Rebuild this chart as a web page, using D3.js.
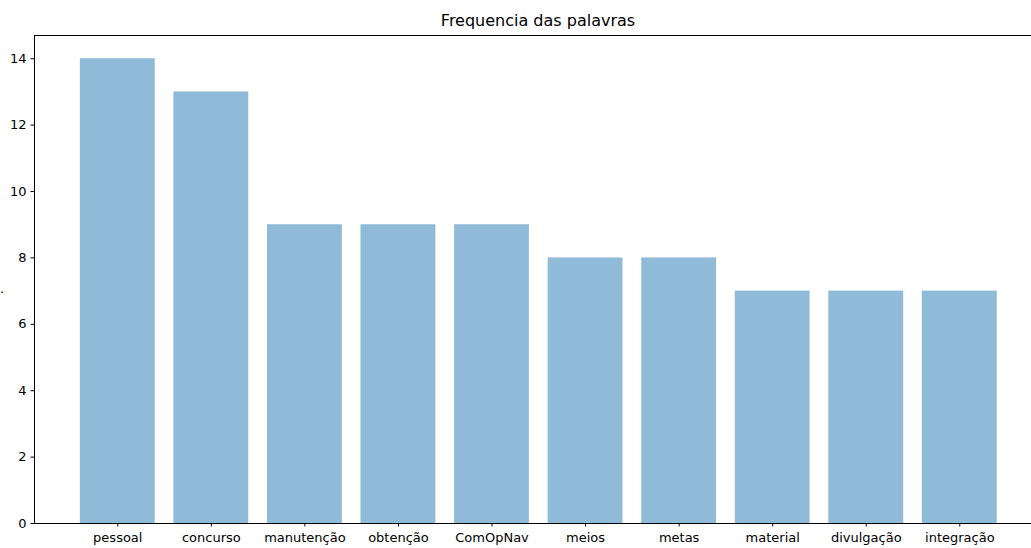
<!DOCTYPE html>
<html>
<head>
<meta charset="utf-8">
<script src="https://cdn.jsdelivr.net/npm/d3@7"></script>
<style>
  body { margin: 0; background: #fff; }
  svg { display: block; }
  svg text { font-family: "DejaVu Sans", sans-serif; }
</style>
</head>
<body>
<svg id="chart" width="1031" height="548"></svg>
<script>
// data
var palavras = ["pessoal", "concurso", "manutenção", "obtenção", "ComOpNav", "meios", "metas", "material", "divulgação", "integração"];
var frequencias = [14, 13, 9, 9, 9, 8, 8, 7, 7, 7];
var yTicks = [0, 2, 4, 6, 8, 10, 12, 14];

var svg = d3.select("#chart");

var plotLeft = 34, plotTop = 35, plotBottom = 523;
var step = 93.56;

// matplotlib-like x range: -0.89 .. 9.89
var x = d3.scaleLinear().domain([-0.89, 9.89]).range([plotLeft, plotLeft + 10.78 * step]);
var y = d3.scaleLinear().domain([0, 14.7]).range([plotBottom, plotTop]);

// bars
svg.selectAll("rect.bar")
    .data(frequencias)
    .enter()
    .append("rect")
    .attr("class", "bar")
    .attr("x", function(d, i) { return x(i - 0.4); })
    .attr("width", function(d, i) { return x(i + 0.4) - x(i - 0.4); })
    .attr("y", function(d) { return y(d); })
    .attr("height", function(d) { return y(0) - y(d); })
    .attr("fill", "#1f77b4")
    .attr("fill-opacity", 0.5);

// y axis
var yAxis = d3.axisLeft(y).tickValues(yTicks).tickSize(3.5).tickPadding(4);
var gy = svg.append("g").attr("transform", "translate(" + plotLeft + ",0)").call(yAxis);
gy.selectAll("text").attr("font-size", "13px").attr("fill", "#000");
gy.selectAll("line").attr("stroke", "#000");
gy.select(".domain").attr("stroke", "#000").attr("d", "M0.5," + plotTop + "V" + plotBottom);

// x axis
var xAxis = d3.axisBottom(x)
    .tickValues(d3.range(palavras.length))
    .tickFormat(function(i) { return palavras[i]; })
    .tickSize(3.5).tickPadding(6);
var gx = svg.append("g").attr("transform", "translate(0," + plotBottom + ")").call(xAxis);
gx.selectAll("text").attr("font-size", "13px").attr("fill", "#000");
gx.selectAll("line").attr("stroke", "#000");
gx.select(".domain").attr("stroke", "#000").attr("d", "M" + plotLeft + ",0.5H1031");

// top spine
svg.append("line")
    .attr("x1", plotLeft).attr("x2", 1031)
    .attr("y1", plotTop + 0.5).attr("y2", plotTop + 0.5)
    .attr("stroke", "#000").attr("stroke-width", 1);

// title
svg.append("text")
    .attr("x", 538)
    .attr("y", 26)
    .attr("text-anchor", "middle")
    .attr("font-size", "16px")
    .attr("fill", "#000")
    .text("Frequencia das palavras");

// cut-off y label remnant
svg.append("text")
    .attr("x", 2)
    .attr("y", 293)
    .attr("text-anchor", "middle")
    .attr("font-size", "13px")
    .attr("fill", "#000")
    .text(".");
</script>
</body>
</html>
